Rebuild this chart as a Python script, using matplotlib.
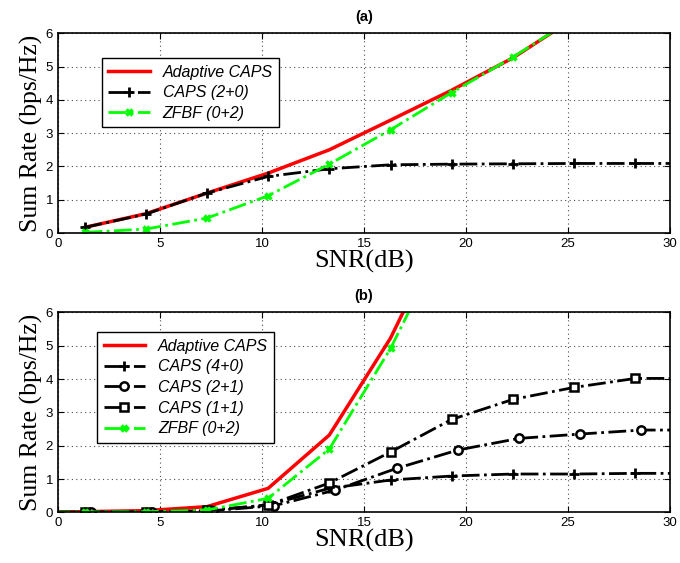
import matplotlib
matplotlib.use('Agg')
import matplotlib.pyplot as plt

# panel (a) data
snr_a = [1.3, 4.3, 7.3, 10.3, 13.3, 16.3, 19.3, 22.3, 25.3, 28.3, 31.3]
adaptive_a = [0.17, 0.58, 1.2, 1.8, 2.5, 3.39, 4.29, 5.26, 6.45, 7.5, 8.5]
caps20_a = [0.17, 0.57, 1.2, 1.7, 1.93, 2.05, 2.07, 2.08, 2.09, 2.09, 2.09]
zfbf_a = [0.02, 0.12, 0.45, 1.12, 2.07, 3.1, 4.22, 5.28, 6.45, 7.5, 8.5]

# panel (b) data
snr_b = [-1.7, 1.3, 4.3, 7.3, 10.3, 13.3, 16.3, 19.3, 22.3, 25.3, 28.3, 31.3]
snr_b_circ = [-1.4, 1.6, 4.6, 7.6, 10.6, 13.6, 16.6, 19.6, 22.6, 25.6, 28.6, 31.6]
adaptive_b = [0.0, 0.02, 0.05, 0.17, 0.72, 2.32, 5.23, 9.0, 12.0, 15.0, 18.0, 21.0]
caps40_b = [0.0, 0.01, 0.02, 0.05, 0.22, 0.72, 0.97, 1.09, 1.15, 1.15, 1.17, 1.17]
caps21_b = [0.0, 0.01, 0.02, 0.05, 0.2, 0.67, 1.32, 1.87, 2.22, 2.35, 2.47, 2.47]
caps11_b = [0.0, 0.01, 0.02, 0.06, 0.22, 0.88, 1.81, 2.79, 3.39, 3.75, 4.02, 4.02]
zfbf_b = [0.0, 0.01, 0.02, 0.07, 0.42, 1.9, 4.92, 8.6, 11.0, 14.0, 17.0, 20.0]

xticks = [0, 5, 10, 15, 20, 25, 30]
yticks = [0, 1, 2, 3, 4, 5, 6]

serif = 'Liberation Serif'
sans = 'Liberation Sans'

fig = plt.figure(figsize=(6.8, 5.63), dpi=100)
ax1 = fig.add_axes([0.0853, 0.586, 0.900, 0.355])
ax2 = fig.add_axes([0.0853, 0.090, 0.900, 0.355])

ax1.plot(snr_a, adaptive_a, '-', color='red', lw=2.5, label='Adaptive CAPS')
ax1.plot(snr_a, caps20_a, '-.', color='black', lw=2, marker='+', ms=7, mew=2,
         label='CAPS (2+0)')
ax1.plot(snr_a, zfbf_a, '-.', color='#00ff00', lw=2, marker='x', ms=5, mew=2.5,
         label='ZFBF (0+2)')

ax2.plot(snr_b, adaptive_b, '-', color='red', lw=2.5, label='Adaptive CAPS')
ax2.plot(snr_b, caps40_b, '-.', color='black', lw=2, marker='+', ms=7, mew=2,
         label='CAPS (4+0)')
ax2.plot(snr_b_circ, caps21_b, '-.', color='black', lw=2, marker='o', ms=6, mew=1.8,
         mfc='white', label='CAPS (2+1)')
ax2.plot(snr_b, caps11_b, '-.', color='black', lw=2, marker='s', ms=5.5, mew=1.8,
         mfc='white', label='CAPS (1+1)')
ax2.plot(snr_b, zfbf_b, '-.', color='#00ff00', lw=2, marker='x', ms=5, mew=2.5,
         label='ZFBF (0+2)')

for ax, title, leg_anchor in [(ax1, '(a)', (0.072, 0.875)), (ax2, '(b)', (0.064, 0.90))]:
    ax.set_xlim(0, 30)
    ax.set_ylim(0, 6)
    ax.set_xticks(xticks)
    ax.set_yticks(yticks)
    ax.grid(True, linestyle=(0, (1, 3)), color='black', lw=0.8, alpha=0.7)
    ax.tick_params(direction='in', labelsize=9.5, length=4, top=True, right=True)
    for lbl in ax.get_xticklabels() + ax.get_yticklabels():
        lbl.set_fontfamily(sans)
    for s in ax.spines.values():
        s.set_linewidth(1.2)
    ax.set_xlabel('SNR(dB)', fontsize=19, fontfamily=serif, labelpad=0)
    ax.set_ylabel('Sum Rate (bps/Hz)', fontsize=18.5, fontfamily=serif, labelpad=2)
    ax.set_title(title, fontsize=10.5, fontweight='bold', fontfamily=sans, pad=9)
    leg = ax.legend(loc='upper left', bbox_to_anchor=leg_anchor, borderaxespad=0,
                    fancybox=False, edgecolor='black', framealpha=1,
                    handlelength=2.6, borderpad=0.4, labelspacing=0.35,
                    prop={'family': sans, 'style': 'italic', 'size': 11.5})
    leg.get_frame().set_linewidth(1.0)

fig.savefig('out.png', dpi=100)
